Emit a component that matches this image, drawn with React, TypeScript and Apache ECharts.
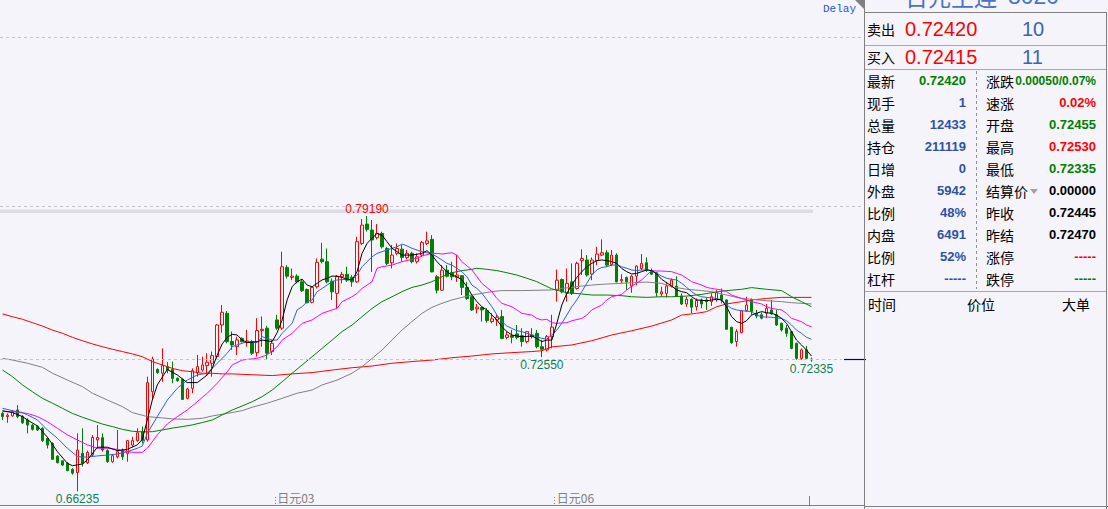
import React, { useEffect, useRef } from 'react';
import * as echarts from 'echarts';

// ---------- data ----------
// [open, close, low, high]
const candles: number[][] = [
  [0.6990,0.6975,0.6959,0.6998],[0.6975,0.6982,0.6946,0.6990],[0.6978,0.6998,0.6975,0.7006],[0.7006,0.6975,0.6967,0.7029],
  [0.6975,0.6946,0.6940,0.6982],[0.6959,0.6935,0.6896,0.6967],[0.6935,0.6915,0.6909,0.6940],[0.6928,0.6912,0.6907,0.6934],
  [0.6920,0.6862,0.6855,0.6925],[0.6872,0.6841,0.6825,0.6877],[0.6849,0.6774,0.6771,0.6854],[0.6789,0.6758,0.6755,0.6794],
  [0.6767,0.6747,0.6742,0.6771],[0.6755,0.6721,0.6718,0.6761],[0.6727,0.6709,0.6702,0.6732],[0.6712,0.6818,0.66235,0.6896],
  [0.6802,0.6755,0.6740,0.6920],[0.6758,0.6807,0.6752,0.6815],[0.6794,0.6877,0.6786,0.6888],[0.6865,0.6877,0.6825,0.6935],
  [0.6876,0.6818,0.6810,0.6896],[0.6815,0.6763,0.6758,0.6821],[0.6763,0.6791,0.6758,0.6798],[0.6786,0.6810,0.6778,0.6912],
  [0.6815,0.6786,0.6771,0.6825],[0.6802,0.6862,0.6763,0.6865],[0.6841,0.6862,0.6833,0.6880],[0.6862,0.6899,0.6857,0.6920],
  [0.6904,0.6862,0.6849,0.6928],[0.6865,0.7135,0.6857,0.7163],[0.7092,0.7246,0.7053,0.7257],[0.7197,0.7182,0.7176,0.7202],
  [0.7179,0.7215,0.7139,0.7296],[0.7210,0.7194,0.7179,0.7231],[0.7197,0.7155,0.7132,0.7234],[0.7155,0.7144,0.7139,0.7160],
  [0.7150,0.7056,0.7053,0.7155],[0.7061,0.7105,0.7056,0.7111],[0.7108,0.7191,0.7085,0.7202],[0.7182,0.7210,0.7163,0.7265],
  [0.7194,0.7218,0.7186,0.7257],[0.7215,0.7231,0.7171,0.7273],[0.7226,0.7262,0.7163,0.7281],[0.7257,0.7406,0.7249,0.7411],
  [0.7406,0.7466,0.7370,0.7500],[0.7461,0.7328,0.7320,0.7472],[0.7328,0.7312,0.7289,0.7375],[0.7304,0.7336,0.7265,0.7351],
  [0.7343,0.7328,0.7323,0.7348],[0.7323,0.7331,0.7304,0.7383],[0.7328,0.7273,0.7265,0.7336],[0.7276,0.7380,0.7257,0.7438],
  [0.7380,0.7386,0.7304,0.7446],[0.7391,0.7273,0.7242,0.7402],[0.7281,0.7320,0.7265,0.7336],[0.7430,0.7391,0.7383,0.7454],
  [0.7391,0.7680,0.7383,0.7751],[0.7677,0.7636,0.7625,0.7688],[0.7630,0.7636,0.7617,0.7672],[0.7636,0.7609,0.7602,0.7645],
  [0.7609,0.7567,0.7562,0.7620],[0.7573,0.7511,0.7508,0.7578],[0.7513,0.7583,0.7508,0.7589],[0.7586,0.7701,0.7578,0.7719],
  [0.7716,0.7704,0.7696,0.7793],[0.7704,0.7609,0.7602,0.7766],[0.7612,0.7562,0.7524,0.7625],[0.7555,0.7633,0.7485,0.7641],
  [0.7633,0.7644,0.7602,0.7656],[0.7645,0.7617,0.7609,0.7680],[0.7630,0.7609,0.7586,0.7641],[0.7609,0.7798,0.7605,0.7821],
  [0.7790,0.7876,0.7782,0.7905],[0.7881,0.7856,0.7845,0.7919],[0.7853,0.7806,0.7656,0.7900],[0.7817,0.7837,0.7809,0.7881],
  [0.7837,0.7774,0.7766,0.7845],[0.7766,0.7696,0.7688,0.7774],[0.7699,0.7735,0.7672,0.7782],[0.7743,0.7766,0.7735,0.7790],
  [0.7763,0.7724,0.7704,0.7782],[0.7724,0.7743,0.7715,0.7759],[0.7743,0.7704,0.7696,0.7751],[0.7704,0.7727,0.7696,0.7743],
  [0.7735,0.7795,0.7727,0.7802],[0.7790,0.7802,0.7782,0.7845],[0.7809,0.7656,0.7654,0.7829],[0.7633,0.7570,0.7555,0.7641],
  [0.7570,0.7664,0.7567,0.7688],[0.7664,0.7636,0.7630,0.7688],[0.7652,0.7633,0.7617,0.7704],[0.7630,0.7641,0.7609,0.7735],
  [0.7638,0.7583,0.7547,0.7641],[0.7583,0.7531,0.7524,0.7609],[0.7539,0.7477,0.7472,0.7544],[0.7482,0.7490,0.7461,0.7505],
  [0.7488,0.7477,0.7422,0.7493],[0.7474,0.7427,0.7417,0.7485],[0.7422,0.7435,0.7414,0.7461],[0.7430,0.7442,0.7402,0.7454],
  [0.7446,0.7343,0.7339,0.7477],[0.7348,0.7359,0.7339,0.7375],[0.7356,0.7348,0.7320,0.7383],[0.7364,0.7348,0.7339,0.7406],
  [0.7356,0.7328,0.7304,0.7391],[0.7328,0.7375,0.7320,0.7378],[0.7359,0.7351,0.7343,0.7391],[0.7367,0.7304,0.7296,0.7383],
  [0.7304,0.7292,0.7255,0.7336],[0.7289,0.7351,0.7281,0.7359],[0.7351,0.7396,0.7296,0.7454],[0.7570,0.7617,0.7516,0.7667],
  [0.7620,0.7562,0.7555,0.7625],[0.7555,0.7602,0.7516,0.7672],[0.7609,0.7555,0.7547,0.7696],[0.7578,0.7696,0.7573,0.7704],
  [0.7709,0.7719,0.7641,0.7762],[0.7712,0.7641,0.7633,0.7735],[0.7646,0.7712,0.7617,0.7724],[0.7709,0.7740,0.7688,0.7774],
  [0.7735,0.7746,0.7731,0.7809],[0.7746,0.7688,0.7680,0.7759],[0.7691,0.7735,0.7683,0.7759],[0.7735,0.7609,0.7607,0.7743],
  [0.7614,0.7620,0.7602,0.7645],[0.7630,0.7609,0.7570,0.7633],[0.7589,0.7636,0.7558,0.7641],[0.7636,0.7683,0.7594,0.7688],
  [0.7672,0.7696,0.7664,0.7740],[0.7699,0.7664,0.7656,0.7724],[0.7661,0.7645,0.7641,0.7672],[0.7652,0.7558,0.7539,0.7656],
  [0.7552,0.7562,0.7539,0.7586],[0.7555,0.7589,0.7536,0.7609],[0.7589,0.7617,0.7583,0.7625],[0.7589,0.7542,0.7539,0.7636],
  [0.7542,0.7505,0.7500,0.7555],[0.7505,0.7527,0.7492,0.7539],[0.7527,0.7490,0.7461,0.7531],[0.7492,0.7521,0.7474,0.7531],
  [0.7524,0.7505,0.7485,0.7531],[0.7524,0.7516,0.7477,0.7536],[0.7516,0.7539,0.7496,0.7555],[0.7524,0.7558,0.7516,0.7570],
  [0.7547,0.7524,0.7508,0.7578],[0.7524,0.7386,0.7383,0.7527],[0.7395,0.7323,0.7317,0.7398],[0.7328,0.7375,0.7304,0.7386],
  [0.7370,0.7473,0.7367,0.7477],[0.7473,0.7500,0.7469,0.7539],[0.7524,0.7469,0.7454,0.7531],[0.7461,0.7448,0.7438,0.7477],
  [0.7454,0.7438,0.7433,0.7465],[0.7461,0.7485,0.7438,0.7505],[0.7477,0.7458,0.7454,0.7524],[0.7454,0.7406,0.7402,0.7477],
  [0.7414,0.7383,0.7375,0.7417],[0.7391,0.7367,0.7351,0.7406],[0.7375,0.7296,0.7292,0.7377],[0.7320,0.7249,0.7242,0.7323],
  [0.7249,0.7289,0.7242,0.7296],[0.7289,0.7249,0.7242,0.7308],[0.72455,0.72420,0.72335,0.72530],
];

// contract roll labels on the category axis
const rollLabels: Record<number, string> = { 55: '日元03', 111: '日元06' };
const sessionStartIndex = 162;

// moving averages, [candle index, price]
const maBlack = [[0,0.7003],[2,0.6994],[4,0.6975],[5,0.6959],[7,0.6931],[9,0.6878],[11,0.6810],[13,0.6755],[14,0.6744],[16,0.6752],[17,0.6771],[19,0.6831],[21,0.6831],[23,0.6815],[25,0.6821],[27,0.6842],[28,0.6868],[29,0.6959],[30,0.7053],[31,0.7124],[33,0.7197],[35,0.7171],[37,0.7135],[39,0.7135],[41,0.7171],[42,0.7202],[43,0.7265],[44,0.7317],[45,0.7348],[46,0.7362],[47,0.7359],[48,0.7335],[49,0.7323],[51,0.7328],[52,0.7335],[54,0.7328],[55,0.7370],[56,0.7430],[57,0.7524],[58,0.7586],[59,0.7610],[60,0.7622],[61,0.7594],[62,0.7586],[63,0.7602],[64,0.7618],[65,0.7626],[66,0.7636],[67,0.7636],[68,0.7630],[69,0.7621],[70,0.7618],[71,0.7657],[72,0.7743],[73,0.7790],[74,0.7814],[75,0.7837],[76,0.7829],[77,0.7798],[78,0.7767],[79,0.7751],[80,0.7735],[82,0.7735],[84,0.7743],[85,0.7756],[86,0.7735],[87,0.7704],[88,0.7680],[89,0.7657],[90,0.7641],[91,0.7633],[92,0.7618],[93,0.7586],[94,0.7547],[95,0.7516],[96,0.7492],[97,0.7477],[98,0.7453],[99,0.7430],[100,0.7398],[101,0.7375],[102,0.7359],[103,0.7354],[104,0.7351],[106,0.7354],[107,0.7343],[108,0.7328],[109,0.7335],[110,0.7335],[111,0.7414],[112,0.7500],[113,0.7555],[114,0.7594],[115,0.7630],[116,0.7657],[117,0.7680],[118,0.7696],[119,0.7709],[120,0.7712],[121,0.7709],[122,0.7704],[123,0.7696],[124,0.7672],[125,0.7657],[126,0.7646],[127,0.7649],[128,0.7657],[129,0.7665],[130,0.7662],[131,0.7646],[132,0.7621],[133,0.7605],[134,0.7589],[135,0.7571],[136,0.7563],[137,0.7558],[138,0.7539],[139,0.7524],[141,0.7520],[143,0.7527],[144,0.7524],[145,0.7492],[146,0.7445],[147,0.7422],[148,0.7414],[149,0.7426],[150,0.7453],[151,0.7461],[152,0.7469],[153,0.7464],[154,0.7461],[155,0.7453],[156,0.7437],[157,0.7414],[158,0.7375],[159,0.7335],[160,0.7312],[161,0.7288],[162,0.7260]];
const maBlue = [[0,0.7014],[2,0.7003],[4,0.6994],[5,0.6983],[7,0.6959],[9,0.6912],[11,0.6873],[13,0.6826],[15,0.6787],[17,0.6784],[19,0.6790],[21,0.6794],[23,0.6799],[25,0.6810],[27,0.6826],[28,0.6837],[29,0.6896],[31,0.6975],[33,0.7053],[35,0.7108],[37,0.7147],[39,0.7171],[41,0.7179],[43,0.7226],[45,0.7273],[46,0.7304],[49,0.7328],[51,0.7323],[52,0.7351],[54,0.7335],[55,0.7335],[56,0.7367],[58,0.7414],[59,0.7477],[60,0.7492],[61,0.7516],[62,0.7524],[63,0.7563],[64,0.7578],[65,0.7594],[66,0.7610],[67,0.7618],[69,0.7621],[70,0.7618],[71,0.7641],[72,0.7680],[73,0.7704],[74,0.7727],[75,0.7743],[76,0.7751],[77,0.7759],[78,0.7767],[79,0.7774],[80,0.7787],[81,0.7778],[82,0.7767],[83,0.7759],[84,0.7751],[85,0.7746],[86,0.7740],[87,0.7727],[88,0.7712],[89,0.7696],[90,0.7688],[91,0.7673],[92,0.7657],[93,0.7633],[94,0.7594],[95,0.7578],[96,0.7555],[97,0.7524],[98,0.7492],[99,0.7453],[100,0.7422],[101,0.7401],[102,0.7390],[103,0.7379],[104,0.7375],[105,0.7367],[106,0.7359],[107,0.7351],[108,0.7343],[109,0.7340],[110,0.7359],[111,0.7382],[112,0.7414],[113,0.7453],[114,0.7492],[115,0.7524],[116,0.7563],[117,0.7602],[118,0.7641],[119,0.7665],[120,0.7677],[121,0.7680],[122,0.7688],[123,0.7688],[124,0.7680],[125,0.7673],[126,0.7665],[127,0.7662],[128,0.7665],[129,0.7665],[130,0.7662],[131,0.7649],[132,0.7636],[133,0.7626],[134,0.7621],[135,0.7618],[136,0.7602],[137,0.7583],[138,0.7563],[139,0.7547],[140,0.7539],[141,0.7536],[143,0.7531],[144,0.7524],[145,0.7500],[146,0.7484],[147,0.7477],[148,0.7473],[150,0.7469],[151,0.7453],[152,0.7445],[154,0.7442],[156,0.7437],[157,0.7426],[158,0.7406],[159,0.7382],[160,0.7367],[161,0.7348],[162,0.7339]];
const maMagenta = [[0,0.6998],[2,0.6998],[5,0.6990],[7,0.6975],[9,0.6951],[11,0.6920],[13,0.6889],[15,0.6865],[17,0.6842],[19,0.6826],[21,0.6826],[23,0.6821],[25,0.6810],[26,0.6807],[28,0.6807],[29,0.6826],[31,0.6889],[33,0.6940],[35,0.6975],[37,0.7006],[39,0.7045],[41,0.7085],[43,0.7132],[45,0.7186],[46,0.7218],[48,0.7241],[49,0.7244],[51,0.7249],[53,0.7265],[55,0.7304],[56,0.7335],[58,0.7367],[59,0.7390],[60,0.7414],[62,0.7430],[63,0.7445],[64,0.7461],[66,0.7477],[67,0.7484],[68,0.7516],[70,0.7539],[71,0.7555],[72,0.7578],[74,0.7610],[75,0.7673],[76,0.7680],[78,0.7688],[79,0.7696],[80,0.7704],[82,0.7715],[83,0.7720],[84,0.7731],[86,0.7743],[87,0.7743],[88,0.7740],[90,0.7746],[91,0.7735],[92,0.7704],[94,0.7665],[95,0.7633],[96,0.7602],[98,0.7563],[99,0.7531],[100,0.7508],[102,0.7492],[103,0.7477],[104,0.7461],[106,0.7453],[107,0.7437],[108,0.7430],[109,0.7433],[110,0.7417],[111,0.7414],[113,0.7417],[114,0.7426],[116,0.7437],[117,0.7453],[118,0.7477],[120,0.7500],[121,0.7524],[122,0.7539],[124,0.7550],[125,0.7571],[126,0.7589],[128,0.7618],[129,0.7641],[130,0.7662],[131,0.7660],[132,0.7660],[134,0.7657],[136,0.7641],[137,0.7626],[138,0.7610],[140,0.7594],[141,0.7583],[142,0.7578],[144,0.7571],[145,0.7563],[146,0.7547],[148,0.7531],[149,0.7524],[150,0.7516],[152,0.7505],[153,0.7492],[154,0.7484],[156,0.7477],[157,0.7461],[158,0.7437],[160,0.7422],[161,0.7406],[162,0.7398]];
const maGreen = [[0,0.7194],[2,0.7163],[4,0.7124],[6,0.7092],[8,0.7061],[10,0.7038],[12,0.7014],[14,0.6990],[16,0.6972],[18,0.6956],[20,0.6940],[22,0.6928],[24,0.6915],[26,0.6906],[28,0.6903],[30,0.6904],[32,0.6912],[34,0.6921],[36,0.6928],[38,0.6936],[40,0.6947],[42,0.6959],[44,0.6983],[46,0.7006],[48,0.7025],[50,0.7045],[52,0.7069],[54,0.7100],[56,0.7139],[58,0.7179],[60,0.7218],[62,0.7257],[64,0.7296],[66,0.7335],[68,0.7375],[70,0.7406],[72,0.7445],[74,0.7484],[76,0.7516],[78,0.7539],[80,0.7563],[82,0.7583],[84,0.7594],[86,0.7610],[88,0.7633],[90,0.7652],[92,0.7662],[94,0.7668],[95,0.7673],[97,0.7668],[99,0.7662],[101,0.7652],[103,0.7641],[105,0.7626],[107,0.7610],[110,0.7576],[113,0.7558],[116,0.7552],[118,0.7547],[121,0.7547],[124,0.7544],[126,0.7539],[129,0.7536],[132,0.7539],[134,0.7539],[137,0.7542],[140,0.7550],[142,0.7558],[145,0.7568],[148,0.7574],[150,0.7582],[153,0.7574],[156,0.7568],[158,0.7539],[160,0.7516],[162,0.7492]];
const maGray = [[0,0.7249],[2,0.7241],[5,0.7226],[8,0.7207],[10,0.7179],[13,0.7147],[16,0.7116],[18,0.7085],[21,0.7053],[24,0.7022],[26,0.6994],[29,0.6975],[32,0.6969],[34,0.6964],[37,0.6962],[40,0.6967],[42,0.6978],[45,0.6990],[48,0.7003],[50,0.7019],[53,0.7038],[56,0.7061],[59,0.7085],[62,0.7100],[64,0.7124],[67,0.7147],[70,0.7179],[72,0.7210],[74,0.7249],[76,0.7288],[78,0.7335],[80,0.7382],[82,0.7422],[84,0.7461],[86,0.7489],[88,0.7508],[90,0.7524],[92,0.7536],[94,0.7547],[96,0.7555],[98,0.7563],[100,0.7568],[104,0.7568],[110,0.7571],[112,0.7578],[116,0.7589],[118,0.7594],[121,0.7599],[124,0.7602],[126,0.7605],[129,0.7608],[132,0.7602],[134,0.7586],[137,0.7574],[140,0.7568],[142,0.7563],[145,0.7547],[148,0.7531],[150,0.7527],[153,0.7520],[156,0.7516],[158,0.7511],[162,0.7505]];
const maRed = [[0,0.7458],[2,0.7445],[4,0.7433],[6,0.7417],[8,0.7401],[10,0.7382],[12,0.7367],[14,0.7348],[16,0.7332],[18,0.7317],[20,0.7304],[22,0.7292],[24,0.7281],[26,0.7270],[28,0.7257],[30,0.7234],[32,0.7218],[34,0.7202],[36,0.7191],[38,0.7186],[40,0.7179],[42,0.7179],[44,0.7176],[46,0.7176],[50,0.7172],[54,0.7168],[58,0.7176],[62,0.7182],[66,0.7194],[70,0.7205],[74,0.7213],[78,0.7226],[82,0.7234],[86,0.7241],[90,0.7252],[94,0.7260],[98,0.7270],[102,0.7276],[106,0.7281],[108,0.7285],[110,0.7303],[114,0.7312],[118,0.7332],[122,0.7359],[126,0.7379],[130,0.7401],[134,0.7430],[136,0.7453],[139,0.7461],[141,0.7469],[143,0.7492],[145,0.7505],[148,0.7516],[150,0.7524],[153,0.7531],[156,0.7536],[162,0.7536]];

// extreme labels: [candle index, 'high' | 'low']
const extremeMarks: [number, string][] = [[73, 'high'], [15, 'low'], [108, 'low'], [162, 'low']];
const prevClose = 0.72445;

// quote panel
const askRow = ['卖出', '0.72420', '10'];
const bidRow = ['买入', '0.72415', '11'];
const leftLabels = ['最新', '现手', '总量', '持仓', '日增', '外盘', '比例', '内盘', '比例', '杠杆'];
const leftValues = ['0.72420', '1', '12433', '211119', '0', '5942', '48%', '6491', '52%', '-----'];
const leftColors = ['g', 'b', 'b', 'b', 'b', 'b', 'b', 'b', 'b', 'b'];
const rightLabels = ['涨跌', '速涨', '开盘', '最高', '最低', '结算价', '昨收', '昨结', '涨停', '跌停'];
const rightValues = ['0.00050/0.07%', '0.02%', '0.72455', '0.72530', '0.72335', '0.00000', '0.72445', '0.72470', '-----', '-----'];
const rightColors = ['g', 'r', 'g', 'r', 'g', 'k', 'k', 'k', 'r', 'g'];
const footerHeads = ['时间', '价位', '大单'];

const BG = '#f4f4fa';
const UP = '#ff0000';
const DOWN = '#008000';
const LABEL_GREEN = '#0f7f55';
const VAL_COLORS: Record<string, string> = { g: '#008000', b: '#2f52a6', r: '#ff0000', k: '#000000' };
const CJK = '"Noto Sans CJK SC"';
const SANS = '"Liberation Sans"';

function txt(x: number, y: number, text: string, fill: string, font: string, align = 'left', valign = 'middle') {
  return {
    type: 'text', x, y, silent: true, z: 20,
    style: { text, fill, font, align, verticalAlign: valign, textAlign: align, textVerticalAlign: valign },
  };
}
function ln(x1: number, y1: number, x2: number, y2: number, stroke: string, dash?: number[], w = 1) {
  return {
    type: 'line', silent: true, z: 15,
    shape: { x1, y1, x2, y2 },
    style: { stroke, lineWidth: w, lineDash: dash || null },
  };
}

export default function App() {
  const ref = useRef<HTMLDivElement>(null);
  useEffect(() => {
    const chart = echarts.init(ref.current as HTMLDivElement, null, { renderer: 'svg' });
    const categories = candles.map((_, i) => rollLabels[i] ?? '');
    const maLine = (data: number[][], color: string) => ({
      type: 'line', data, showSymbol: false, symbol: 'none', silent: true,
      lineStyle: { color, width: 1 }, z: 3,
    });
    chart.setOption({
      animation: false,
      backgroundColor: BG,
      grid: { left: -1, top: 7.5, width: 815, height: 497.3 },
      xAxis: {
        type: 'category', data: categories, boundaryGap: true,
        axisLine: { show: false }, axisTick: { show: false }, splitLine: { show: false },
        axisLabel: {
          show: true, inside: true, interval: (_i: number, v: string) => v !== '',
          align: 'left', verticalAlign: 'bottom', margin: 1,
          color: '#808080', fontSize: 12, fontFamily: CJK,
        },
      },
      yAxis: { type: 'value', min: 0.656, max: 0.89, show: false },
      series: [
        {
          type: 'candlestick', data: candles, barWidth: 3, silent: true, z: 2,
          itemStyle: { color: BG, color0: DOWN, borderColor: UP, borderColor0: DOWN, borderWidth: 1 },
        },
        maLine(maRed, '#ff0000'),
        maLine(maGray, '#808080'),
        maLine(maGreen, '#008000'),
        maLine(maMagenta, '#ff00ff'),
        maLine(maBlue, '#2d62dc'),
        maLine(maBlack, '#000000'),
      ],
    });

    const px = (i: number, v: number) => chart.convertToPixel({ gridIndex: 0 }, [i, v]) as number[];
    const band = px(1, 0.7)[0] - px(0, 0.7)[0];
    const g: any[] = [];

    // horizontal guides
    g.push(ln(0, 37.5, 862, 37.5, '#c4c4cc', [3, 3]));
    g.push(ln(0, 206.5, 862, 206.5, '#c4c4cc', [3, 3]));
    g.push({ type: 'rect', silent: true, z: 1, shape: { x: 0, y: 209.5, width: 813, height: 3.5 }, style: { fill: '#dcdce4' } });
    const yPrev = Math.round(px(0, prevClose)[1]) + 0.5;
    g.push(ln(0, yPrev, 842, yPrev, '#c4c4cc', [3, 3]));
    g.push(ln(844, yPrev, 866, yPrev, '#000080', undefined, 1.2));

    // extremes
    extremeMarks.forEach(([i, kind]) => {
      const c = candles[i];
      if (kind === 'high') {
        const p = px(i, c[3]);
        g.push(txt(p[0], p[1] - 0.5, c[3].toFixed(5), '#ff0000', '12px ' + SANS, 'center', 'bottom'));
      } else {
        const p = px(i, c[2]);
        g.push(txt(p[0], p[1] + 1.5, c[2].toFixed(5), LABEL_GREEN, '12px ' + SANS, 'center', 'top'));
      }
    });

    // bottom axis line and ticks
    g.push(ln(0, 505.5, 864, 505.5, '#808080'));
    g.push(ln(865, 506.5, 1108, 506.5, '#808080'));
    Object.keys(rollLabels).forEach((k) => {
      const x = Math.round(px(Number(k), 0.7)[0] - band / 2) + 0.5;
      g.push(ln(x, 497, x, 504, '#808080', [1, 2]));
    });
    const xs = Math.round(px(sessionStartIndex, 0.7)[0] - band / 2) + 0.5;
    g.push(ln(xs, 496, xs, 505, '#808080'));

    // chart top-right decorations
    g.push(txt(823, 8.5, 'Delay', '#2255dd', '11px "Liberation Mono"'));
    g.push({ type: 'polygon', silent: true, z: 15, shape: { points: [[855, 0], [864, 0], [864, 9]] }, style: { fill: '#808080' } });

    // quote panel frame
    g.push(ln(864.5, 0, 864.5, 509, '#808080'));
    g.push(ln(865, 12.5, 1106, 12.5, '#808080'));
    g.push(ln(1106.5, 12, 1106.5, 509, '#808080'));
    g.push(ln(865, 45.5, 1106, 45.5, '#a8a8b0'));
    g.push(ln(865, 69.5, 1106, 69.5, '#a8a8b0'));
    g.push(ln(865, 291.5, 1106, 291.5, '#a8a8b0'));
    g.push(ln(976.5, 71, 976.5, 289, '#909098', [3, 3]));

    // title (cut at top)
    g.push(txt(905, -4.5, '日元主连', '#4a72c4', '23px ' + CJK));
    g.push(txt(1008, -4.5, '8020', '#4a72c4', '23px ' + SANS));

    // ask / bid rows
    [[askRow, 29], [bidRow, 57]].forEach(([row, y]: any) => {
      g.push(txt(867, y, row[0], '#000000', '14px ' + CJK));
      g.push(txt(905, y, row[1], '#ff0000', '20px ' + SANS));
      g.push(txt(1022, y, row[2], '#3b63b3', '20px ' + SANS));
    });

    // quote rows
    leftLabels.forEach((lab, k) => {
      const y = 80.5 + k * 22;
      g.push(txt(867, y, lab, '#000000', '14px ' + CJK));
      g.push(txt(966, y, leftValues[k], VAL_COLORS[leftColors[k]], 'bold 13px ' + SANS, 'right'));
      g.push(txt(986, y, rightLabels[k], '#000000', '14px ' + CJK));
      g.push(txt(1096, y, rightValues[k], VAL_COLORS[rightColors[k]], (k === 0 ? 'bold 12px ' : 'bold 13px ') + SANS, 'right'));
    });
    g.push({ type: 'polygon', silent: true, z: 20, shape: { points: [[1030, 189], [1038, 189], [1034, 194]] }, style: { fill: '#a0a0a8' } });

    // footer headers
    g.push(txt(868, 303.5, footerHeads[0], '#000000', '14px ' + CJK));
    g.push(txt(967, 303.5, footerHeads[1], '#000000', '14px ' + CJK));
    g.push(txt(1062, 303.5, footerHeads[2], '#000000', '14px ' + CJK));

    chart.setOption({ graphic: g });
    return () => chart.dispose();
  }, []);
  return <div ref={ref} style={{ position: 'absolute', left: 0, top: 0, width: 1108, height: 509, background: BG }} />;
}
